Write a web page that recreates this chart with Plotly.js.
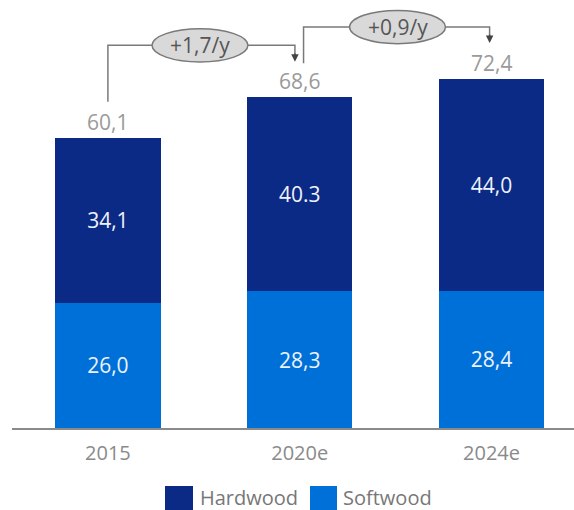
<!DOCTYPE html>
<html><head><meta charset="utf-8">
<script src="https://cdn.plot.ly/plotly-3.0.1.min.js"></script>
<style>body{margin:0;background:#fff}#c{width:574px;height:510px}</style>
</head><body><div id="c"></div>
<script>
const categories = ['2015', '2020e', '2024e'];
const softwood = [26.0, 28.3, 28.4];
const hardwood = [34.1, 40.3, 44.0];
const totals = [60.1, 68.6, 72.4];
const softwoodLabels = ['26,0', '28,3', '28,4'];
const hardwoodLabels = ['34,1', '40.3', '44,0'];
const totalLabels = ['60,1', '68,6', '72,4'];
const growthLabels = ['+1,7/y', '+0,9/y'];
const seriesNames = ['Hardwood', 'Softwood'];

const FONT = 'Open Sans, DejaVu Sans, sans-serif';
const DARK = '#0b2a85';
const LIGHT = '#0070d9';
const GREY = '#7a7a7a';
const xi = categories.map((c, i) => i);

const traces = [
  {type: 'bar', x: xi, y: softwood, name: seriesNames[1], marker: {color: LIGHT},
   width: 0.55, text: softwoodLabels, textposition: 'inside', insidetextanchor: 'middle',
   textfont: {color: '#eef2fa', size: 21, family: FONT}, hoverinfo: 'skip'},
  {type: 'bar', x: xi, y: hardwood, name: seriesNames[0], marker: {color: DARK},
   width: 0.55, text: hardwoodLabels, textposition: 'inside', insidetextanchor: 'middle',
   textfont: {color: '#eef2fa', size: 21, family: FONT}, hoverinfo: 'skip'}
];

const annotations = totals.map((t, i) => ({
  x: i, y: t, xref: 'x', yref: 'y', text: totalLabels[i], showarrow: false,
  yanchor: 'bottom', yshift: 0, font: {size: 21, color: '#9a9a9a', family: FONT}
}));

const shapes = [];
// growth connectors
const levels = [79.3, 83.1];
const ellHalfW = [0.25, 0.25];
const ellHalfH = 3.45;
const ellCenters = [0.48, 1.51];
const startX = [0, 1.02];
const endX = [0.975, 1.99];
const startY = [totals[0] + 7.5, totals[1] + 7.0];
const tipY = [totals[1] + 7.3, totals[2] + 7.4];
for (let k = 0; k < 2; k++) {
  const L = levels[k];
  shapes.push({type: 'path', xref: 'x', yref: 'y',
    path: `M${startX[k]},${startY[k]} L${startX[k]},${L} L${ellCenters[k]-ellHalfW[k]},${L}`,
    line: {color: GREY, width: 1.5}});
  shapes.push({type: 'path', xref: 'x', yref: 'y',
    path: `M${ellCenters[k]+ellHalfW[k]},${L} L${endX[k]},${L} L${endX[k]},${tipY[k]+1.5}`,
    line: {color: GREY, width: 1.5}});
  shapes.push({type: 'circle', xref: 'x', yref: 'y',
    x0: ellCenters[k]-ellHalfW[k], x1: ellCenters[k]+ellHalfW[k],
    y0: L-ellHalfH, y1: L+ellHalfH,
    fillcolor: '#d9d9d9', line: {color: GREY, width: 1.5}});
  annotations.push({x: ellCenters[k], y: L, xref: 'x', yref: 'y', text: growthLabels[k],
    showarrow: false, font: {size: 21, color: '#555', family: FONT}});
  annotations.push({x: endX[k], y: tipY[k], xref: 'x', yref: 'y', text: '',
    showarrow: true, axref: 'x', ayref: 'y', ax: endX[k], ay: tipY[k] + 2,
    arrowhead: 2, arrowsize: 1, arrowwidth: 1.5, arrowcolor: '#444', standoff: 0});
}

// legend drawn manually (large swatches)
const pxX = p => (p - 12) / 562;
const pxY = p => (428 - p) / 425;
const legendItems = [
  {name: seriesNames[0], color: DARK, x0: 165, x1: 193, tx: 198},
  {name: seriesNames[1], color: LIGHT, x0: 310, x1: 337, tx: 341}
];
legendItems.forEach(it => {
  shapes.push({type: 'rect', xref: 'paper', yref: 'paper',
    x0: pxX(it.x0), x1: pxX(it.x1), y0: pxY(510), y1: pxY(486),
    fillcolor: it.color, line: {width: 0}});
  annotations.push({xref: 'paper', yref: 'paper', x: pxX(it.tx), y: pxY(497),
    xanchor: 'left', yanchor: 'middle', text: it.name, showarrow: false,
    font: {size: 20, color: '#777', family: FONT}});
});

const layout = {
  width: 574, height: 510,
  margin: {l: 12, r: 0, t: 3, b: 82},
  paper_bgcolor: '#fff', plot_bgcolor: '#fff',
  barmode: 'stack', showlegend: false,
  xaxis: {range: [-0.5, 2.43], tickvals: xi, ticktext: categories,
    showgrid: false, zeroline: false, showline: true, linecolor: '#8a8a8a', linewidth: 2,
    ticks: '', tickfont: {size: 20, color: '#8a8a8a', family: FONT}, ticklabelstandoff: 6},
  yaxis: {range: [0, 88.08], visible: false, showgrid: false, zeroline: false},
  shapes: shapes, annotations: annotations,
  font: {family: FONT}
};
Plotly.newPlot('c', traces, layout, {staticPlot: true, displayModeBar: false});
</script></body></html>
